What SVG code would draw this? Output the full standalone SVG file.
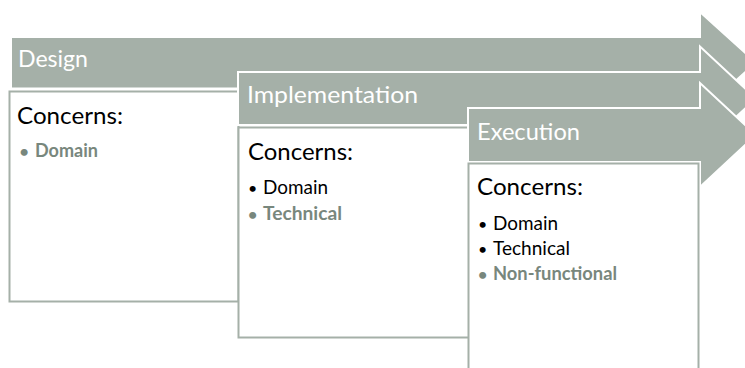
<svg xmlns="http://www.w3.org/2000/svg" width="745" height="368" viewBox="0 0 745 368">
<style>
.arrow{fill:#a5b0a8;stroke:#ffffff;stroke-width:2;stroke-linejoin:miter}
.box{fill:#ffffff;stroke:#a5b0a8;stroke-width:2}
.title{font-family:Lato,"Open Sans",sans-serif;font-size:23px;fill:#ffffff}
.head{font-family:Lato,"Open Sans",sans-serif;font-size:24px;fill:#000000}
.item{font-family:Lato,"Open Sans",sans-serif;font-size:19px;fill:#000000}
.hl{fill:#78877d;font-weight:bold}
.dot{font-size:16px}
</style>
<rect width="745" height="368" fill="#ffffff"/>
<g id="design">
<path class="arrow" d="M11,37 H700 V12 L756,62.5 L700,113 V88.5 H11 Z"/>
<rect class="box" x="9.5" y="91.5" width="229" height="210"/>
<text class="title" x="18" y="67" textLength="70" lengthAdjust="spacingAndGlyphs">Design</text>
<text class="head" x="17" y="124" textLength="106" lengthAdjust="spacingAndGlyphs">Concerns:</text>
<text class="item hl"><tspan class="dot" x="19.5" y="157">•</tspan><tspan x="35" y="157" textLength="63" lengthAdjust="spacingAndGlyphs">Domain</tspan></text>
</g>
<g id="implementation">
<path class="arrow" d="M238,72 H700 V46.5 L756,98.5 L700,150.5 V125 H238 Z"/>
<rect class="box" x="238.5" y="127.5" width="231" height="210"/>
<text class="title" x="247" y="103" textLength="171" lengthAdjust="spacingAndGlyphs">Implementation</text>
<text class="head" x="248" y="160" textLength="105" lengthAdjust="spacingAndGlyphs">Concerns:</text>
<text class="item"><tspan class="dot" x="248" y="194">•</tspan><tspan x="263" y="194" textLength="65" lengthAdjust="spacingAndGlyphs">Domain</tspan></text>
<text class="item hl"><tspan class="dot" x="248" y="220">•</tspan><tspan x="263" y="220" textLength="79" lengthAdjust="spacingAndGlyphs">Technical</tspan></text>
</g>
<g id="execution">
<path class="arrow" d="M468,108 H700 V83 L756,135 L700,187 V162 H468 Z"/>
<rect class="box" x="468.5" y="163.5" width="230" height="210"/>
<text class="title" x="477" y="140" textLength="103" lengthAdjust="spacingAndGlyphs">Execution</text>
<text class="head" x="477" y="195" textLength="106" lengthAdjust="spacingAndGlyphs">Concerns:</text>
<text class="item"><tspan class="dot" x="478" y="230">•</tspan><tspan x="493" y="230" textLength="65" lengthAdjust="spacingAndGlyphs">Domain</tspan></text>
<text class="item"><tspan class="dot" x="478" y="255">•</tspan><tspan x="493" y="255" textLength="77" lengthAdjust="spacingAndGlyphs">Technical</tspan></text>
<text class="item hl"><tspan class="dot" x="478" y="280">•</tspan><tspan x="493" y="280" textLength="124" lengthAdjust="spacingAndGlyphs">Non-functional</tspan></text>
</g>
</svg>
